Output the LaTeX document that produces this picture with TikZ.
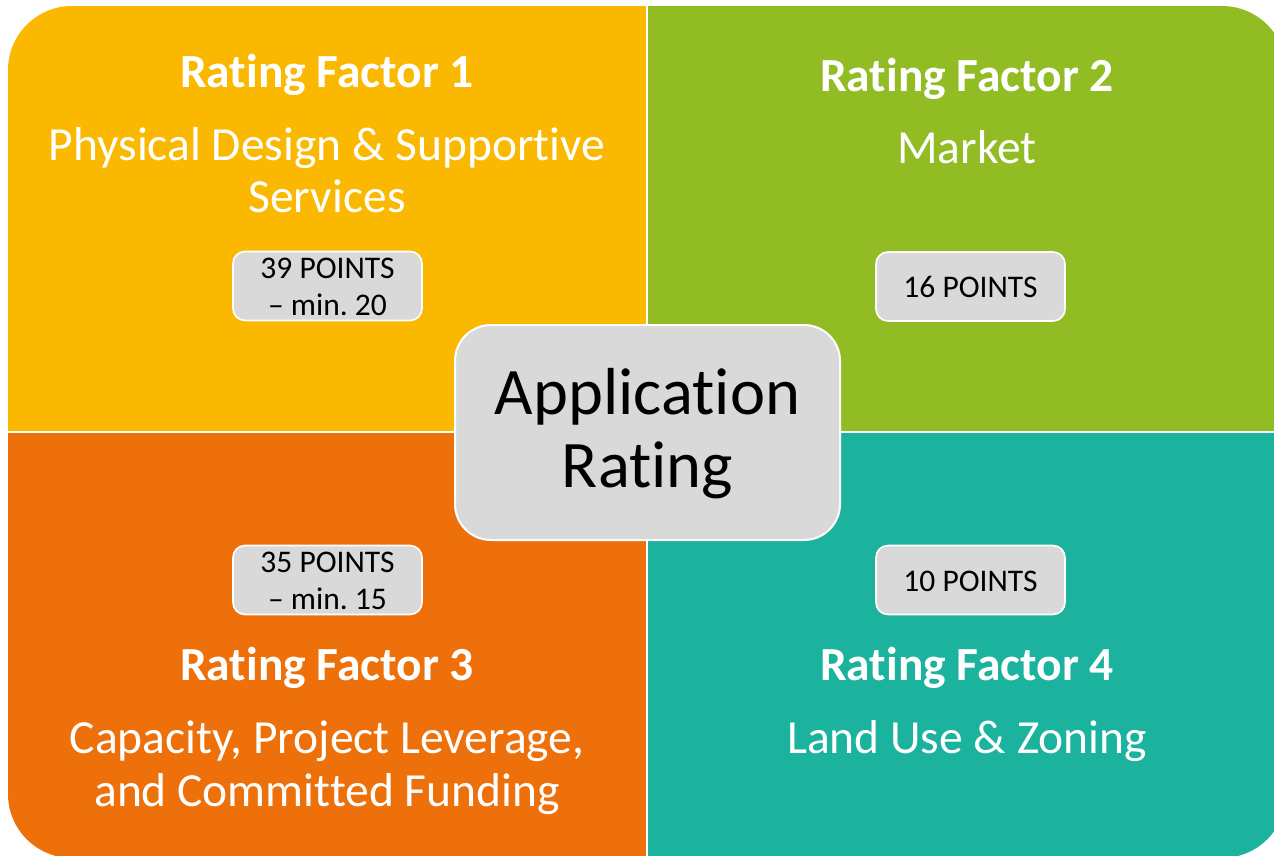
\documentclass[tikz,border=0pt]{standalone}
\usepackage{fontspec}
\setmainfont[Ligatures=NoCommon]{Carlito}
\frenchspacing
\definecolor{qyellow}{RGB}{250,185,0}
\definecolor{qgreen}{RGB}{146,188,35}
\definecolor{qorange}{RGB}{237,112,10}
\definecolor{qteal}{RGB}{27,178,158}
\definecolor{boxgray}{RGB}{217,217,217}
\tikzset{
  title/.style={anchor=base, text=white, inner sep=0pt, font=\fontsize{47.5}{54}\selectfont\bfseries},
  body/.style={anchor=base, text=white, inner sep=0pt, font=\fontsize{47.5}{54}\selectfont},
  pointbox/.style={draw=white, line width=1.6pt, fill=boxgray, rounded corners=12pt,
                   minimum width=189pt, minimum height=69pt, inner sep=0pt},
  pointtext/.style={anchor=base, text=black, inner sep=0pt, font=\fontsize{31.5}{36}\selectfont},
  centerbox/.style={draw=white, line width=2pt, fill=boxgray, rounded corners=36pt,
                    minimum width=385pt, minimum height=215pt, inner sep=0pt},
  centertext/.style={anchor=base, text=black, inner sep=0pt, font=\fontsize{66.5}{72}\selectfont},
}
\begin{document}
\begin{tikzpicture}[x=1pt, y=-1pt]
\useasboundingbox (0,0) rectangle (1274,855);
\clip (0,0) rectangle (1274,855);

% four quadrants inside one rounded outline
\begin{scope}
  \clip[rounded corners=64pt] (8,6) rectangle (1286,858);
  \fill[qyellow] (0,0) rectangle (647,432);
  \fill[qgreen]  (647,0) rectangle (1290,432);
  \fill[qorange] (0,432) rectangle (647,860);
  \fill[qteal]   (647,432) rectangle (1290,860);
\end{scope}
% thin white separators
\draw[white, line width=2pt] (647,0) -- (647,860);
\draw[white, line width=2pt] (0,432) -- (1290,432);

% quadrant texts
\node[title] (t1) at (327,87) {Rating Factor 1};
\node[body] (d1a) at (327,160) {Physical Design \& Supportive};
\node[body] (d1b) at (327,212) {Services};

\node[title] (t2) at (967,91) {Rating Factor 2};
\node[body] (d2) at (967,163) {Market};

\node[title] (t3) at (327,680) {Rating Factor 3};
\node[body] (d3a) at (327,753) {Capacity, Project Leverage,};
\node[body] (d3b) at (327,806) {and Committed Funding};

\node[title] (t4) at (967,680) {Rating Factor 4};
\node[body] (d4) at (967,753) {Land Use \& Zoning};

% point boxes
\node[pointbox] (b1) at (327.5,286) {};
\node[pointtext] (b1a) at (327.5,278) {39 POINTS};
\node[pointtext] (b1b) at (327.5,315) {– min. 20};

\node[pointbox] (b2) at (970.5,286.5) {};
\node[pointtext] (b2a) at (970.5,297) {16 POINTS};

\node[pointbox] (b3) at (327.5,580) {};
\node[pointtext] (b3a) at (327.5,572) {35 POINTS};
\node[pointtext] (b3b) at (327.5,609) {– min. 15};

\node[pointbox] (b4) at (970.5,580) {};
\node[pointtext] (b4a) at (970.5,591) {10 POINTS};

% central box
\node[centerbox] (c) at (647.5,432.5) {};
\node[centertext] (ca) at (647.5,414) {Application};
\node[centertext] (cb) at (647.5,487) {Rating};
\end{tikzpicture}
\end{document}
